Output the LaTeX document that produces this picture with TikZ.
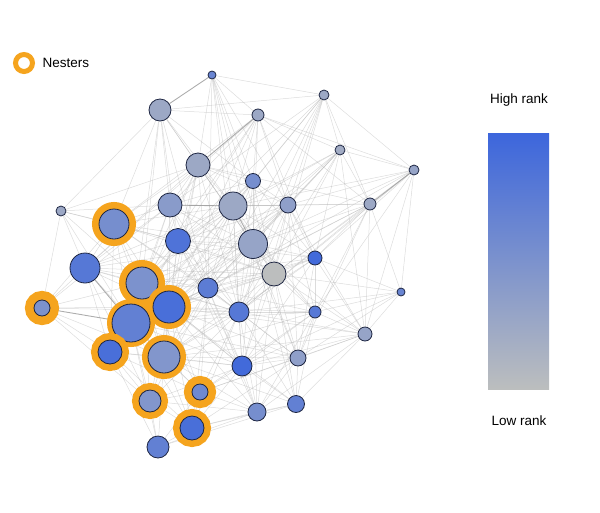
\documentclass[tikz,border=0pt]{standalone}
\usepackage{fontspec}
\setmainfont{Liberation Sans}
\usepackage{xcolor}
\usepackage{tikz}

\definecolor{hi}{RGB}{60,102,220}
\definecolor{lo}{RGB}{188,190,190}
\definecolor{ringc}{RGB}{245,164,30}
\definecolor{rim}{RGB}{30,38,66}

\pgfdeclarelayer{edges}
\pgfsetlayers{edges,main}

\begin{document}
\begin{tikzpicture}[x=1pt,y=-1pt,
  vertex/.style={circle, draw=rim, line width=0.8pt, inner sep=0pt, minimum size=#1},
  nester/.style={preaction={draw=ringc, line width=#1}},
  edge/.style={draw=gray!60, opacity=0.45, line width=0.5pt},
  strongedge/.style={draw=gray!80, opacity=0.8, line width=0.9pt},
  label/.style={font=\fontsize{13.5}{16}\selectfont}]
\useasboundingbox (0,0) rectangle (600,512);

% Legend
\node[circle, draw=ringc, line width=5pt, fill=white, minimum size=17, inner sep=0pt] (nestkey) at (24,63) {};
\node[label, anchor=west] (nestlabel) at (39,63) {Nesters};

% Upper nodes
\node[vertex=8, fill=hi!65!lo] (n1) at (212,75) {};
\node[vertex=22, fill=hi!25!lo] (n2) at (160,110) {};
\node[vertex=12, fill=hi!25!lo] (n3) at (258,115) {};
\node[vertex=10, fill=hi!25!lo] (n4) at (324,95) {};
\node[vertex=24, fill=hi!25!lo] (n5) at (198,165) {};
\node[vertex=10, fill=hi!20!lo] (n6) at (340,150) {};
\node[vertex=10, fill=hi!30!lo] (n7) at (414,170) {};
\node[vertex=15, fill=hi!55!lo] (n8) at (253,181) {};
\node[vertex=24, fill=hi!40!lo] (n9) at (170,205) {};
\node[vertex=28, fill=hi!25!lo] (n10) at (233,206) {};
\node[vertex=16, fill=hi!35!lo] (n11) at (288,205) {};
\node[vertex=12, fill=hi!25!lo] (n12) at (370,204) {};
\node[vertex=10, fill=hi!25!lo] (n13) at (61,211) {};

% Middle nodes
\node[vertex=30, fill=hi!55!lo, nester=14] (n14) at (114,224) {};
\node[vertex=25, fill=hi!85!lo] (n15) at (178,241) {};
\node[vertex=29, fill=hi!30!lo] (n16) at (253,244) {};
\node[vertex=30, fill=hi!80!lo] (n17) at (85,268) {};
\node[vertex=24, fill=lo] (n18) at (274,274) {};
\node[vertex=14, fill=hi!95!lo] (n19) at (315,258) {};
\node[vertex=32, fill=hi!50!lo, nester=14] (n20) at (142,283) {};
\node[vertex=20, fill=hi!75!lo] (n21) at (208,288) {};
\node[vertex=8, fill=hi!65!lo] (n22) at (401,292) {};
\node[vertex=16, fill=hi!50!lo, nester=18] (n23) at (42,308) {};
\node[vertex=32, fill=hi!90!lo, nester=12] (n24) at (169,307) {};
\node[vertex=38, fill=hi!70!lo, nester=10] (n25) at (131,323) {};
\node[vertex=20, fill=hi!80!lo] (n26) at (239,312) {};
\node[vertex=12, fill=hi!80!lo] (n27) at (315,312) {};
\node[vertex=14, fill=hi!30!lo] (n28) at (365,334) {};

% Lower nodes
\node[vertex=24, fill=hi!90!lo, nester=14] (n29) at (110,352) {};
\node[vertex=32, fill=hi!45!lo, nester=12] (n30) at (164,357) {};
\node[vertex=20, fill=hi!95!lo] (n31) at (242,366) {};
\node[vertex=16, fill=hi!35!lo] (n32) at (298,358) {};
\node[vertex=16, fill=hi!60!lo, nester=16] (n33) at (200,392) {};
\node[vertex=22, fill=hi!45!lo, nester=14] (n34) at (150,401) {};
\node[vertex=18, fill=hi!55!lo] (n35) at (257,412) {};
\node[vertex=17, fill=hi!70!lo] (n36) at (296,404) {};
\node[vertex=24, fill=hi!90!lo, nester=14] (n37) at (192,428) {};
\node[vertex=22, fill=hi!70!lo] (n38) at (158,447) {};

% Links
\begin{pgfonlayer}{edges}
\foreach \a/\b in {1/4,1/3,1/5,1/8,1/10,1/16,1/18,1/21,1/26,1/11,
  2/3,2/4,2/5,2/9,2/10,2/14,2/15,2/13,2/20,2/8,2/16,2/21,2/25,
  3/8,3/9,3/10,3/11,3/6,3/7,3/15,3/16,3/17,3/20,3/24,3/14,3/12,3/19,
  4/6,4/7,4/10,4/11,4/12,4/16,4/8,4/15,4/18,4/26,4/21,4/9,
  5/9,5/10,5/13,5/14,5/15,5/16,5/17,5/20,5/21,5/8,5/11,5/24,5/25,5/18,5/26,5/30,5/12,
  6/7,6/11,6/12,6/16,6/18,6/19,6/10,6/21,6/26,6/15,6/25,6/28,6/24,
  7/11,7/16,7/19,7/22,7/28,7/10,7/18,7/27,7/21,7/26,
  8/10,8/11,8/16,8/18,8/9,8/15,8/20,8/21,8/24,8/19,8/26,
  9/13,9/14,9/15,9/16,9/17,9/20,9/21,9/24,9/25,9/11,9/26,9/23,9/30,9/18,
  10/11,10/15,10/18,10/20,10/21,10/24,10/25,10/26,10/30,10/12,10/19,10/27,10/31,10/17,10/14,10/29,10/32,
  11/16,11/18,11/19,11/12,11/21,11/26,11/24,11/27,11/20,11/31,11/15,11/25,11/32,11/28,
  12/16,12/18,12/19,12/22,12/27,12/28,12/26,12/21,12/24,12/32,
  13/14,13/17,13/23,13/20,13/25,13/15,
  14/17,14/20,14/23,14/24,14/25,14/15,14/29,14/16,14/21,14/26,14/18,14/30,
  15/16,15/20,15/21,15/24,15/25,15/17,15/26,15/18,15/30,15/31,15/29,15/19,15/35,
  16/18,16/19,16/21,16/24,16/25,16/26,16/27,16/20,16/30,16/31,16/32,16/28,16/36,16/35,
  17/20,17/23,17/24,17/29,17/30,17/21,17/26,17/18,17/16,17/34,
  18/19,18/21,18/24,18/26,18/27,18/28,18/30,18/31,18/32,18/25,18/20,18/35,18/36,18/22,
  19/26,19/27,19/28,19/22,19/31,19/24,19/21,19/32,19/30,
  20/23,20/24,20/25,20/29,20/30,20/26,20/21,20/31,20/34,20/33,20/19,
  21/24,21/25,21/26,21/30,21/31,21/27,21/33,21/34,21/32,21/35,21/37,21/29,
  22/27,22/28,22/32,22/31,22/26,
  23/29,23/24,23/30,23/34,23/26,
  24/25,24/26,24/30,24/31,24/29,24/27,24/33,24/34,24/32,24/35,24/37,24/36,24/28,
  25/29,25/30,25/31,25/34,25/33,25/26,25/37,25/38,25/27,25/32,
  26/30,26/31,26/32,26/27,26/33,26/35,26/36,26/37,26/28,26/34,
  27/31,27/32,27/28,27/36,27/30,27/35,27/33,
  28/32,28/36,28/31,28/35,28/33,28/30,
  29/30,29/34,29/37,29/38,29/31,29/33,
  30/31,30/33,30/34,30/37,30/38,30/35,30/32,30/36,
  31/33,31/35,31/36,31/32,31/37,31/34,
  32/35,32/36,32/33,32/37,
  33/37,33/35,33/38,33/34,
  34/37,34/38,34/35,
  35/36,35/37,35/38,
  36/37,36/38,37/38}
  \draw[edge] (n\a) -- (n\b);
\foreach \a/\b in {1/2,3/5,7/12,9/10,10/16,17/25,23/25}
  \draw[strongedge] (n\a) -- (n\b);
\end{pgfonlayer}

% Rank scale
\shade[top color=hi, bottom color=lo] (488,133) rectangle (549,389);
\node[label] (highrank) at (519,100) {High rank};
\node[label] (lowrank) at (519,421) {Low rank};
\end{tikzpicture}
\end{document}
